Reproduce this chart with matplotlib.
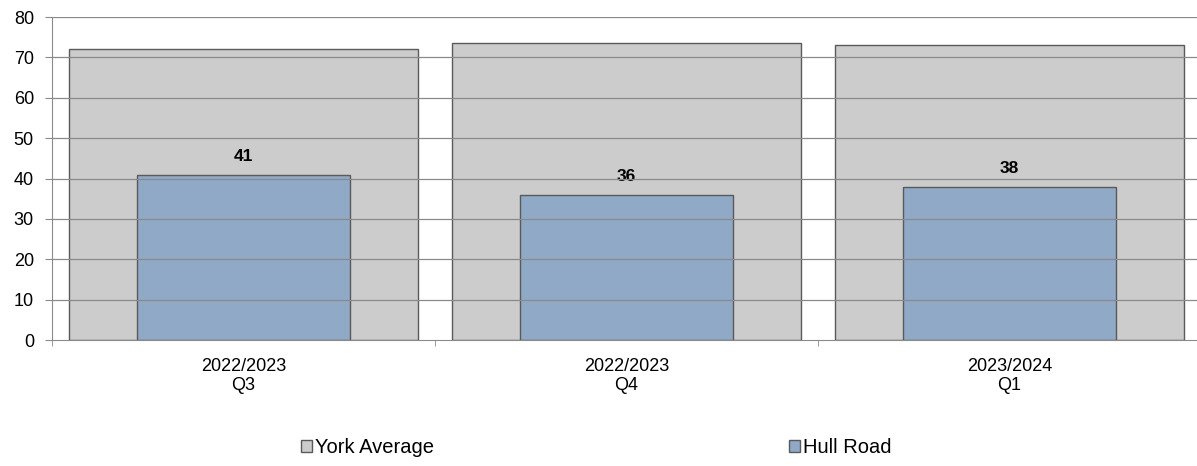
import matplotlib.pyplot as plt
import numpy as np
from matplotlib.patches import Patch

plt.rcParams['font.family'] = ['Liberation Sans', 'DejaVu Sans']

# Chart data
categories = ['2022/2023\nQ3', '2022/2023\nQ4', '2023/2024\nQ1']
york_average = [72, 73.6, 73]
hull_road = [41, 36, 38]

grey = '#cccccc'
blue = '#8fa9c7'
edge = '#5a5a5a'

fig = plt.figure(figsize=(11.97, 4.66), dpi=100)
ax = fig.add_axes([0.0434, 0.27, 0.96, 0.6935])

x = np.arange(len(categories))
ax.bar(x, york_average, width=0.91, color=grey, edgecolor=edge, linewidth=1.0, zorder=1)
ax.bar(x, hull_road, width=0.556, color=blue, edgecolor=edge, linewidth=1.0, zorder=2)

# Value labels on Hull Road bars
for xi, v in zip(x, hull_road):
    ax.text(xi, v + 3.3, str(v), ha='center', va='baseline', fontsize=12.5, fontweight='bold')

# Gridlines drawn over bars
for yv in range(10, 81, 10):
    ax.axhline(yv, color='#8a8a8a', linewidth=0.9, zorder=3)

ax.set_ylim(0, 80)
ax.set_xlim(-0.5, 2.5)
ax.set_yticks(range(0, 81, 10))
ax.tick_params(axis='y', labelsize=13, length=5, color='#8a8a8a', pad=8)

ax.set_xticks(x)
ax.set_xticklabels(categories, fontsize=13, linespacing=1.1)
ax.tick_params(axis='x', length=0, pad=13)
# boundary ticks between categories
ax.set_xticks([-0.5, 0.5, 1.5, 2.5], minor=True)
ax.tick_params(axis='x', which='minor', length=4, color='#8a8a8a')

for s in ['top', 'right']:
    ax.spines[s].set_visible(False)
for s in ['left', 'bottom']:
    ax.spines[s].set_color('#8a8a8a')
    ax.spines[s].set_zorder(4)

handles = [Patch(facecolor=grey, edgecolor=edge, label='York Average'),
           Patch(facecolor=blue, edgecolor=edge, label='Hull Road')]
fig.legend(handles=handles, loc='center', bbox_to_anchor=(0.4983, 0.04), ncol=2,
           frameon=False, fontsize=14.5, handlelength=0.55, handleheight=0.55,
           handletextpad=0.15, columnspacing=17.6)

fig.savefig('out.png', dpi=100)
